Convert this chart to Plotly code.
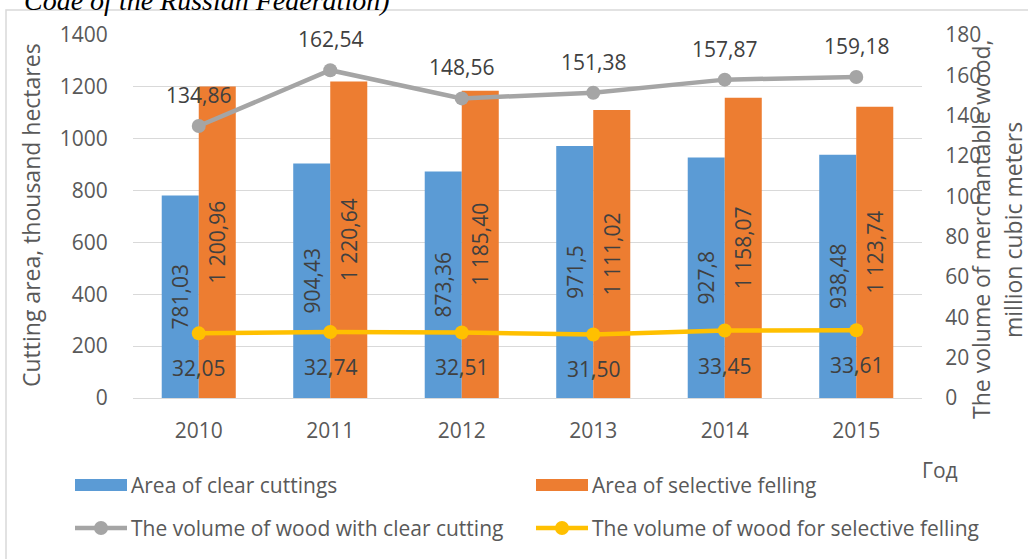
import plotly.graph_objects as go

years = ["2010", "2011", "2012", "2013", "2014", "2015"]
area_clear = [781.03, 904.43, 873.36, 971.5, 927.8, 938.48]
area_selective = [1200.96, 1220.64, 1185.40, 1111.02, 1158.07, 1123.74]
vol_clear = [134.86, 162.54, 148.56, 151.38, 157.87, 159.18]
vol_selective = [32.05, 32.74, 32.51, 31.50, 33.45, 33.61]

lbl_area_clear = ["781,03", "904,43", "873,36", "971,5", "927,8", "938,48"]
lbl_area_selective = ["1 200,96", "1 220,64", "1 185,40", "1 111,02", "1 158,07", "1 123,74"]
lbl_vol_clear = ["134,86", "162,54", "148,56", "151,38", "157,87", "159,18"]
lbl_vol_selective = ["32,05", "32,74", "32,51", "31,50", "33,45", "33,61"]

xi = list(range(len(years)))  # category positions

BLUE = "#5B9BD5"
ORANGE = "#ED7D31"
GREY = "#A5A5A5"
YELLOW = "#FFC000"
TICK = "#595959"
LBL = "#404040"
FONT = "Open Sans"
FS = 21
FT = 23

fig = go.Figure()
fig.add_trace(go.Bar(x=xi, y=area_clear, name="Area of clear cuttings",
                     marker=dict(color=BLUE, line=dict(width=0)),
                     text=lbl_area_clear, textposition="inside", textangle=-90,
                     insidetextanchor="middle", constraintext="none",
                     textfont=dict(family=FONT, size=FS, color=LBL)))
fig.add_trace(go.Bar(x=xi, y=area_selective, name="Area of selective felling",
                     marker=dict(color=ORANGE, line=dict(width=0)),
                     text=lbl_area_selective, textposition="inside", textangle=-90,
                     insidetextanchor="middle", constraintext="none",
                     textfont=dict(family=FONT, size=FS, color=LBL)))
fig.add_trace(go.Scatter(x=xi, y=vol_clear, yaxis="y2", mode="lines+markers",
                         name="The volume of wood with clear cutting",
                         line=dict(color=GREY, width=4.5),
                         marker=dict(color=GREY, size=14)))
fig.add_trace(go.Scatter(x=xi, y=vol_selective, yaxis="y2", mode="lines+markers",
                         name="The volume of wood for selective felling",
                         line=dict(color=YELLOW, width=4.5),
                         marker=dict(color=YELLOW, size=14)))

ann = []
for x, v, t in zip(xi, vol_clear, lbl_vol_clear):
    ann.append(dict(x=x, y=v, xref="x", yref="y2", text=t, showarrow=False,
                    xanchor="center", yanchor="middle",
                    yshift=31, font=dict(family=FONT, size=FS, color=LBL)))
for x, v, t in zip(xi, vol_selective, lbl_vol_selective):
    ann.append(dict(x=x, y=v, xref="x", yref="y2", text=t, showarrow=False,
                    xanchor="center", yanchor="middle",
                    yshift=-35, font=dict(family=FONT, size=FS, color=LBL)))

# plot area: x 133..922, y 35..398 (px)
L, R, T, B = 133, 922, 35, 398
W, H = R - L, B - T
def px(x):
    return (x - L) / W
def py(y):
    return (B - y) / H

def text_at(x, y, text, size=FS, angle=0, xanchor="center", yanchor="middle",
            family=FONT, color=TICK):
    return dict(x=px(x), y=py(y), xref="paper", yref="paper", text=text,
                textangle=angle, showarrow=False, xanchor=xanchor, yanchor=yanchor,
                font=dict(family=family, size=size, color=color))

# axis titles
ann.append(text_at(31, 215, "Cutting area, thousand hectares", FT, -90))
ann.append(text_at(981, 229, "The volume of merchantable wood,", FT, -90))
ann.append(text_at(1013, 230, "million cubic meters", FT, -90))
ann.append(text_at(940, 470, "Год"))
# caption (cut off at top)
ann.append(text_at(22, 18, "<i>Code of the Russian Federation)</i>", 28,
                   xanchor="left", yanchor="bottom", family="Liberation Serif",
                   color="#000000"))

# custom legend
shapes = []
leg = [
    ("Area of clear cuttings", "bar", BLUE, 75, 485),
    ("Area of selective felling", "bar", ORANGE, 536, 485),
    ("The volume of wood with clear cutting", "line", GREY, 75, 528),
    ("The volume of wood for selective felling", "line", YELLOW, 536, 528),
]
for name, kind, col, x0, yc in leg:
    if kind == "bar":
        shapes.append(dict(type="rect", xref="paper", yref="paper",
                           x0=px(x0), x1=px(x0 + 52), y0=py(yc - 6), y1=py(yc + 6),
                           fillcolor=col, line=dict(width=0)))
    else:
        shapes.append(dict(type="line", xref="paper", yref="paper",
                           x0=px(x0), x1=px(x0 + 52), y0=py(yc), y1=py(yc),
                           line=dict(color=col, width=4.5)))
        shapes.append(dict(type="circle", xref="paper", yref="paper",
                           x0=px(x0 + 26 - 7), x1=px(x0 + 26 + 7),
                           y0=py(yc - 7), y1=py(yc + 7),
                           fillcolor=col, line=dict(width=0)))
    ann.append(text_at(x0 + 54, yc, name, xanchor="left"))

# chart border
shapes.append(dict(type="rect", xref="paper", yref="paper", layer="below",
                   x0=px(6), x1=px(1040), y0=py(575), y1=py(10),
                   line=dict(color="#D9D9D9", width=1.5), fillcolor="rgba(0,0,0,0)"))

fig.update_layout(
    width=1028, height=559,
    margin=dict(l=L, r=1028 - R, t=T, b=559 - B),
    paper_bgcolor="white", plot_bgcolor="white",
    barmode="group", bargap=0.437, bargroupgap=0,
    showlegend=False,
    font=dict(family=FONT, size=FS, color=TICK),
    xaxis=dict(range=[-0.5, len(years) - 0.5], tickvals=xi, ticktext=years,
               showgrid=False, showline=False, zeroline=False, ticks="outside",
               ticklen=14, tickcolor="rgba(0,0,0,0)",
               tickfont=dict(family=FONT, size=FS, color=TICK)),
    yaxis=dict(range=[0, 1400], dtick=200, showgrid=True, gridcolor="#D9D9D9",
               gridwidth=1, zeroline=True, zerolinecolor="#D9D9D9", zerolinewidth=1,
               ticks="outside", ticklen=20, tickcolor="rgba(0,0,0,0)",
               tickfont=dict(family=FONT, size=FS, color=TICK)),
    yaxis2=dict(range=[0, 180], dtick=20, overlaying="y", side="right",
                showgrid=False, zeroline=False, ticks="outside", ticklen=18,
                tickcolor="rgba(0,0,0,0)",
                tickfont=dict(family=FONT, size=FS, color=TICK)),
    annotations=ann, shapes=shapes,
)

fig.write_html("out.html", config={"displayModeBar": False},
               post_script="document.body.style.margin='0';")
